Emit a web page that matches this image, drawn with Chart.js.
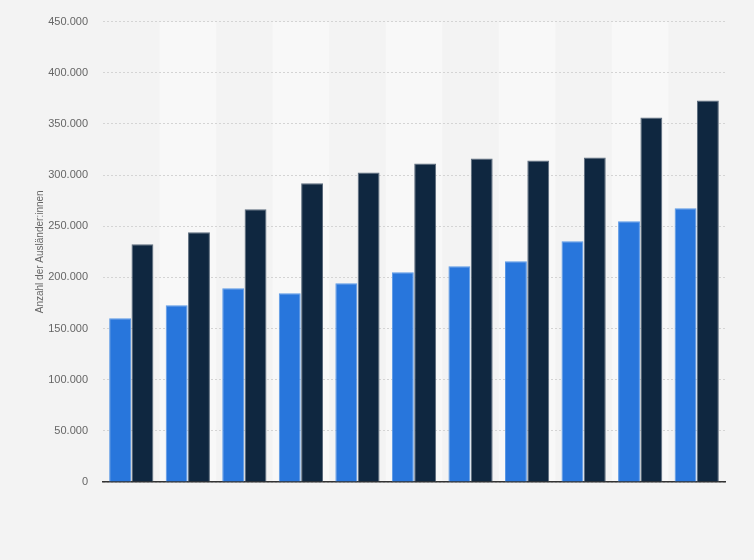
<!DOCTYPE html>
<html>
<head>
<meta charset="utf-8">
<script src="https://cdn.jsdelivr.net/npm/chart.js@4"></script>
<style>
  html, body { margin: 0; padding: 0; background: #f3f3f3; }
  #wrap { width: 754px; height: 560px; position: relative; }
</style>
</head>
<body>
<div id="wrap"><canvas id="chart"></canvas></div>
<script>
// Data
const categories = ['1', '2', '3', '4', '5', '6', '7', '8', '9', '10', '11'];
const seriesA = [160000, 172800, 189400, 184500, 194200, 205000, 210800, 215700, 235200, 254800, 267500];
const seriesB = [232300, 244000, 266500, 291900, 302600, 311400, 316300, 314300, 317200, 356300, 372900];
const yTitle = 'Anzahl der Ausländer:innen';

function fmt(v) {
    return String(v).replace(/\B(?=(\d{3})+(?!\d))/g, '.');
}

// alternating column stripes behind the bars
const stripes = {
    id: 'stripes',
    beforeDraw(chart) {
        const { ctx, chartArea, scales } = chart;
        const x = scales.x;
        const half = (x.getPixelForValue(1) - x.getPixelForValue(0)) / 2;
        ctx.save();
        categories.forEach((c, i) => {
            if (i % 2 === 1) {
                const cx = x.getPixelForValue(i);
                ctx.fillStyle = '#f8f8f8';
                ctx.fillRect(cx - half, chartArea.top, half * 2, chartArea.bottom - chartArea.top);
            }
        });
        ctx.restore();
    }
};

new Chart(document.getElementById('chart'), {
    type: 'bar',
    data: {
        labels: categories,
        datasets: [
            {
                data: seriesA,
                backgroundColor: '#2876dc',
                borderColor: '#5a98e6',
                borderWidth: 1,
                borderSkipped: 'bottom'
            },
            {
                data: seriesB,
                backgroundColor: '#0f2740',
                borderColor: '#5b6b7c',
                borderWidth: 1,
                borderSkipped: 'bottom'
            }
        ]
    },
    options: {
        responsive: true,
        maintainAspectRatio: false,
        animation: false,
        categoryPercentage: 0.79,
        barPercentage: 0.98,
        layout: { padding: { left: 30, right: 29, top: 13, bottom: 70 } },
        plugins: { legend: { display: false }, tooltip: { enabled: false } },
        scales: {
            x: {
                grid: { display: false },
                border: { color: '#333', width: 1.5 },
                ticks: { display: false }
            },
            y: {
                min: 0,
                max: 450000,
                afterFit(scale) { scale.width = 73; },
                border: { display: false, dash: [2, 2] },
                grid: {
                    color: '#d4d4d4',
                    drawTicks: false
                },
                ticks: {
                    stepSize: 50000,
                    padding: 15,
                    color: '#666',
                    font: { family: 'Liberation Sans', size: 11 },
                    callback: v => fmt(v)
                },
                title: {
                    display: true,
                    text: yTitle,
                    color: '#666',
                    font: { family: 'Liberation Sans', size: 10 },
                    padding: { top: 4, bottom: 0 }
                }
            }
        }
    },
    plugins: [stripes]
});
</script>
</body>
</html>
